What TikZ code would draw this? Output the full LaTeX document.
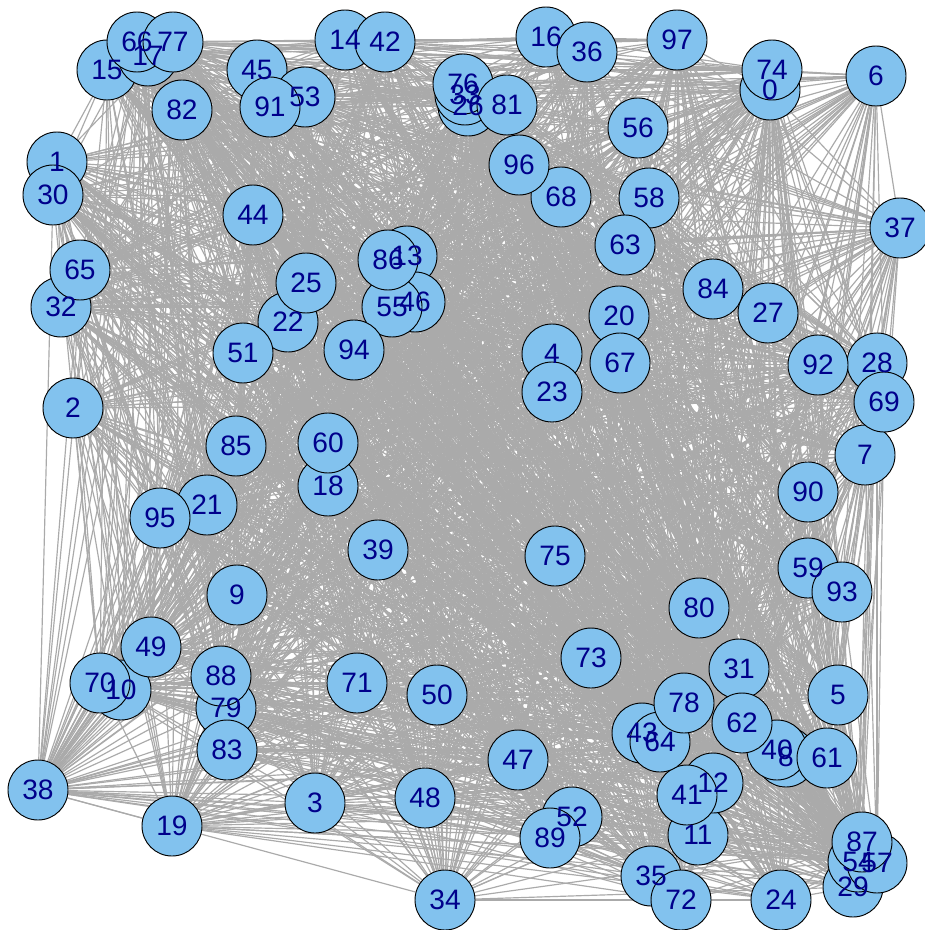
\documentclass[tikz,border=0pt]{standalone}
\usepackage{fontspec}
\setmainfont{Liberation Sans}
\usetikzlibrary{backgrounds}

\definecolor{edgegray}{RGB}{170,170,170}
\definecolor{skyblue}{RGB}{130,194,238}
\definecolor{labelblue}{RGB}{0,0,139}

\tikzset{
  vertex/.style={circle,draw=black,line width=0.8pt,fill=skyblue,
    minimum size=1.8cm,inner sep=0pt},
  vlabel/.style={text=labelblue,inner sep=0pt,
    font=\fontsize{24}{24}\selectfont},
  edge/.style={draw=edgegray,line width=1pt}
}

\begin{document}
\begin{tikzpicture}[x=0.03cm,y=-0.03cm]
    \useasboundingbox (0,0) rectangle (924,930);
    % vertices, in drawing order
    \foreach \n/\x/\y in {0/770/90, 1/57/162, 2/73/408, 3/315/803, 4/552/354,
        5/838/695, 6/876/76, 7/865/455, 8/786/757, 9/237/595, 10/121/690,
        11/698/835, 12/713/783, 13/407/256, 14/345/40, 15/107/70, 16/546/37,
        17/148/56, 18/328/486, 19/172/826, 20/619/316, 21/207/505, 22/288/322,
        23/552/392, 24/781/900, 25/306/283, 26/468/106, 27/768/313, 28/877/363,
        29/853/887, 30/53/195, 31/739/669, 32/61/307, 33/465/95, 34/445/900,
        35/651/876, 36/587/52, 37/900/228, 38/38/790, 39/378/550, 40/777/750,
        41/687/795, 42/385/42, 43/642/733, 44/253/215, 45/257/70, 46/415/302,
        47/518/760, 48/425/798, 49/151/647, 50/437/695, 51/243/353, 52/572/817,
        53/305/97, 54/858/862, 55/392/307, 56/638/128, 57/877/863, 58/649/198,
        59/808/568, 60/328/443, 61/827/758, 62/742/723, 63/625/245, 64/660/742,
        65/80/270, 66/137/42, 67/620/363, 68/561/197, 69/884/402, 70/100/683,
        71/357/683, 72/681/900, 73/591/658, 74/772/70, 75/555/556, 76/463/84,
        77/173/42, 78/684/703, 79/226/708, 80/699/608, 81/507/105, 82/182/110,
        83/227/750, 84/713/289, 85/236/446, 86/388/260, 87/862/842, 88/221/676,
        89/550/838, 90/808/492, 91/270/107, 92/818/365, 93/842/592, 94/354/350,
        95/160/518, 96/519/165, 97/677/40}
      \node[vertex] (n\n) at (\x,\y) {};
    % labels go on top of every circle
    \foreach \n in {0,...,97}
      \node[vlabel] (l\n) at (n\n) {\n};
    % white ground and random edges behind the vertices
    \pgfmathsetseed{7319}
    \begin{pgfonlayer}{background}
      \fill[white] (0,0) rectangle (924,930);
      \foreach \i in {0,...,96}{
        \pgfmathtruncatemacro\first{\i+1}
        \foreach \j in {\first,...,97}{
          \pgfmathtruncatemacro\hit{rnd<0.55}
          \ifnum\hit=1 \draw[edge] (n\i) -- (n\j);\fi
        }
      }
    \end{pgfonlayer}
\end{tikzpicture}
\end{document}
